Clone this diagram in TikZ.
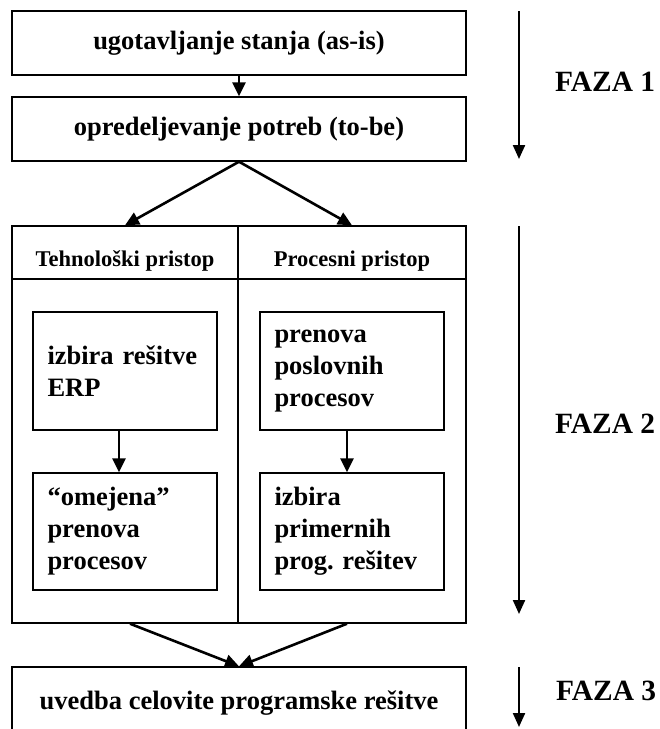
\documentclass[tikz,border=0pt]{standalone}
\usepackage{fontspec}
\setmainfont{Liberation Serif}
\usetikzlibrary{arrows.meta}
\frenchspacing
\begin{document}
\begin{tikzpicture}[x=1pt,y=-1pt,
  box/.style={draw,line width=1.4pt,rectangle,inner sep=0pt,font=\fontsize{26.5}{32}\selectfont\bfseries},
  inbox/.style={draw,line width=1.4pt,rectangle,minimum width=184pt,inner xsep=14.5pt,inner ysep=0pt,text width=155pt,align=left,font=\fontsize{26.5}{32}\selectfont\bfseries\frenchspacing},
  hdr/.style={anchor=base,inner sep=0pt,font=\fontsize{22.5}{27}\selectfont\bfseries},
  faza/.style={anchor=base west,inner sep=0pt,font=\fontsize{29.4}{35}\selectfont\bfseries},
  flow/.style={line width=2.6pt,-{Triangle[width=13pt,length=14pt]}},
  phase/.style={line width=2.2pt,-{Triangle[width=12pt,length=14pt]}}
]
\clip (0,0) rectangle (660,729);
\fill[white] (0,0) rectangle (660,729);

% phase 1
\node[box,minimum width=454pt,minimum height=64pt] (b1) at (239,43) {\raisebox{2pt}{ugotavljanje stanja (as-is)}};
\node[box,minimum width=454pt,minimum height=64pt] (b2) at (239,129) {opredeljevanje potreb (to-be)};
\draw[flow] (b1.south) -- (b2.north);

% phase 2 frame
\node[draw,line width=1.4pt,rectangle,inner sep=0pt,minimum width=454pt,minimum height=397pt] (big) at (239,424.5) {};
\coordinate (hl) at (0,279);
\draw[line width=1.4pt] (big.west |- hl) -- (big.east |- hl);
\draw[line width=1.4pt] ([xshift=-1pt]big.north) -- ([xshift=-1pt]big.south);
\node[hdr] (h1) at (125,266) {Tehnološki pristop};
\node[hdr] (h2) at (352,266) {Procesni pristop};
\draw[flow] (b2.south) -- (h1 |- big.north);
\draw[flow] (b2.south) -- (h2 |- big.north);

\node[inbox,minimum height=118pt] (l1) at (125,371) {izbira rešitve\\ERP};
\node[inbox,minimum height=117pt] (l2) at (125,531.5) {“omejena”\\prenova\\procesov};
\node[inbox,minimum height=118pt] (r1) at (352,371) {prenova\\poslovnih\\procesov};
\node[inbox,minimum height=117pt] (r2) at (352,531.5) {izbira\\primernih\\prog. rešitev};
\draw[flow] ([xshift=-6pt]l1.south) -- ([xshift=-6pt]l2.north);
\draw[flow] ([xshift=-5pt]r1.south) -- ([xshift=-5pt]r2.north);

% phase 3
\node[box,minimum width=454pt,minimum height=72pt] (b3) at (239,703) {uvedba celovite programske rešitve};
\draw[flow] ([xshift=-109pt]big.south) -- (b3.north);
\draw[flow] ([xshift=108pt]big.south) -- (b3.north);

% phase arrows and labels
\coordinate (p1s) at (519,11);
\coordinate (p1e) at (519,159);
\coordinate (p2s) at (519,226);
\coordinate (p2e) at (519,614);
\coordinate (p3s) at (519,667);
\coordinate (p3e) at (519,727);
\draw[phase] (p1s) -- (p1e);
\draw[phase] (p2s) -- (p2e);
\draw[phase] (p3s) -- (p3e);
\node[faza] (f1) at (555,91) {FAZA 1};
\node[faza] (f2) at (555,433) {FAZA 2};
\node[faza] (f3) at (556,700) {FAZA 3};
\end{tikzpicture}
\end{document}
